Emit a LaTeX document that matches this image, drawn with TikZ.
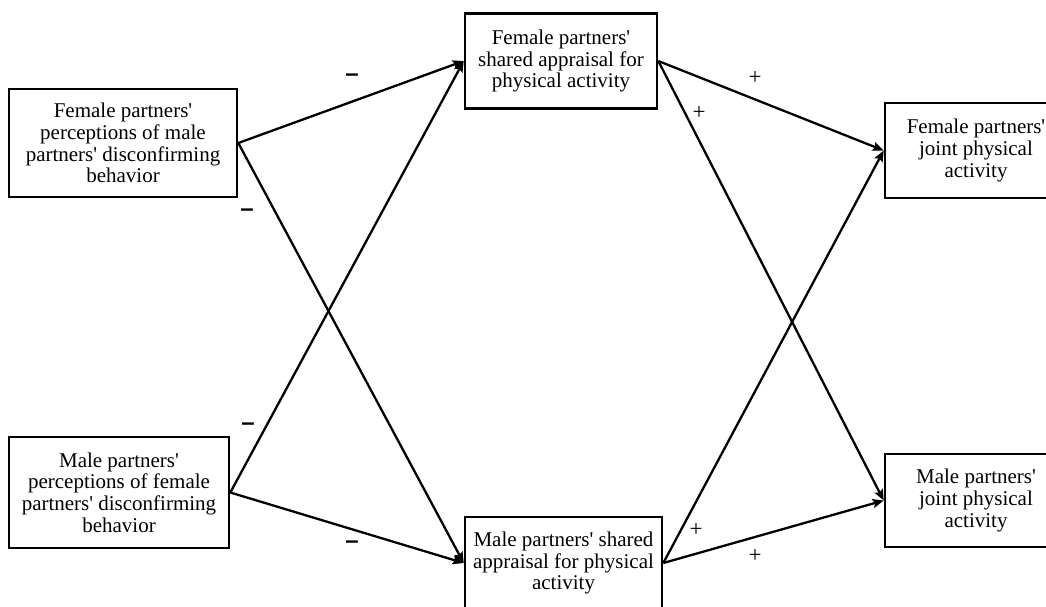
\documentclass[tikz,border=0pt]{standalone}
\usepackage{fontspec}
\setmainfont{Liberation Serif}[Ligatures=TeXOff]
\newfontfamily\signfont{Liberation Sans}[Ligatures=TeXOff]
\usetikzlibrary{arrows.meta}
\begin{document}
\begin{tikzpicture}[x=1pt,y=-1pt,
  box/.style={draw=black,line width=2.6pt,rectangle,align=center,inner sep=0pt,
    font=\fontsize{21}{21.7}\selectfont},
  conn/.style={line width=2.3pt,-{Stealth[length=11pt,width=9pt,inset=2pt]}},
  minus/.style={inner sep=0pt,font=\signfont\bfseries\fontsize{24}{24}\selectfont},
  plus/.style={inner sep=0pt,font=\fontsize{23}{23}\selectfont}]
\useasboundingbox (0,0) rectangle (1046,606);
\clip (0,0) rectangle (1046,606);
\fill[white] (0,0) rectangle (1046,606);
\node[box,minimum width=228pt,minimum height=108pt] (lt) at (123,143)
  {Female partners'\\perceptions of male\\partners' disconfirming\\behavior};
\node[box,minimum width=220pt,minimum height=111pt] (lb) at (119,492.5)
  {Male partners'\\perceptions of female\\partners' disconfirming\\behavior};
\node[box,minimum width=192pt,minimum height=95pt] (mt) at (561,61)
  {Female partners'\\shared appraisal for\\physical activity};
\node[box,minimum width=197pt,minimum height=92pt] (mb) at (563.5,563)
  {Male partners' shared\\appraisal for physical\\activity};
\node[box,minimum width=182pt,minimum height=95pt] (rt) at (976,150.5)
  {Female partners'\\joint physical\\activity};
\node[box,minimum width=182pt,minimum height=93pt] (rb) at (976,500.5)
  {Male partners'\\joint physical\\activity};
\draw[conn] (lt.east) -- (mt.west);
\draw[conn] (lt.east) -- (mb.west);
\draw[conn] (lb.east) -- (mt.west);
\draw[conn] (lb.east) -- (mb.west);
\draw[conn] (mt.east) -- (rt.west);
\draw[conn] (mt.east) -- (rb.west);
\draw[conn] (mb.east) -- (rt.west);
\draw[conn] (mb.east) -- (rb.west);
\node[minus] (s1) at (352,78) {–};
\node[minus] (s2) at (247,213) {–};
\node[minus] (s3) at (248,427) {–};
\node[minus] (s4) at (352,545) {–};
\node[plus] (p1) at (755,78) {+};
\node[plus] (p2) at (699,113) {+};
\node[plus] (p3) at (696,530) {+};
\node[plus] (p4) at (755,556) {+};
\end{tikzpicture}
\end{document}
